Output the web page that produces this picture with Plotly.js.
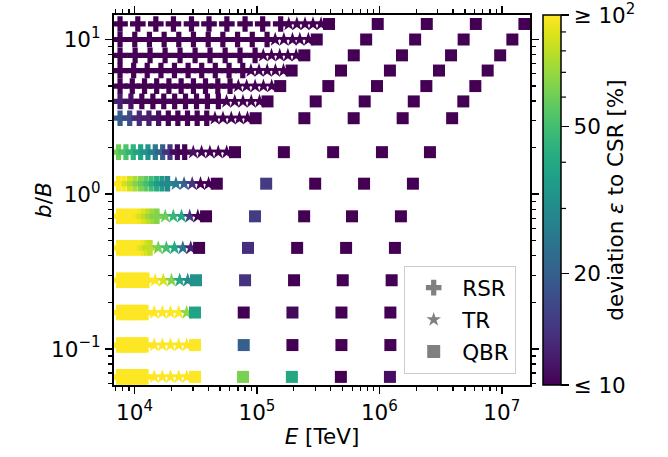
<!DOCTYPE html>
<html><head><meta charset="utf-8">
<script src="https://cdn.plot.ly/plotly-3.0.1.min.js"></script>
<style>html,body{margin:0;padding:0;background:#fff}</style>
</head><body><div id="chart" style="width:668px;height:457px"></div>
<script>
// b/B value of each row (top to bottom)
const bB = [12.6, 10.0, 7.9, 6.3, 5.0, 3.98, 3.1, 1.87, 1.17, 0.72, 0.45, 0.278, 0.172, 0.106, 0.066];

// RSR (plus markers): E [TeV] per row
const rsrE = [
  [7.62e3,1.064e4,1.493e4,2.08e4,2.92e4,4.06e4,5.68e4,8.0e4,1.114e5,1.563e5],
  [7.62e3,1.005e4,1.324e4,1.746e4,2.30e4,3.03e4,4.0e4,5.27e4,6.95e4,9.16e4,1.21e5],
  [7.62e3,1.012e4,1.34e4,1.778e4,2.355e4,3.126e4,4.14e4,5.5e4,7.28e4,9.66e4],
  [7.62e3,9.84e3,1.27e4,1.644e4,2.12e4,2.74e4,3.54e4,4.57e4,5.92e4,7.66e4],
  [7.62e3,9.59e3,1.208e4,1.517e4,1.91e4,2.404e4,3.03e4,3.80e4,4.79e4,6.03e4],
  [7.62e3,9.35e3,1.148e4,1.413e4,1.734e4,2.128e4,2.61e4,3.21e4,3.94e4,4.84e4],
  [7.62e3,9.14e3,1.094e4,1.312e4,1.574e4,1.888e4,2.26e4,2.71e4,3.25e4,3.89e4],
  [7.41e3,8.51e3,9.77e3,1.122e4,1.288e4,1.479e4,1.698e4,1.95e4,2.239e4,2.57e4],
  [7.41e3,8.2e3,9.1e3,1.007e4,1.117e4,1.236e4,1.368e4,1.517e4,1.679e4,1.862e4],
  [7.41e3,8.04e3,8.71e3,9.44e3,1.023e4,1.107e4,1.2e4,1.3e4,1.409e4,1.528e4],
  [7.41e3,7.92e3,8.45e3,9.04e3,9.64e3,1.03e4,1.099e4,1.175e4,1.253e4,1.34e4],
  [7.41e3,7.86e3,8.34e3,8.85e3,9.38e3,9.95e3,1.056e4,1.12e4,1.188e4,1.265e4],
  [7.41e3,7.85e3,8.31e3,8.8e3,9.32e3,9.87e3,1.045e4,1.107e4,1.172e4,1.242e4],
  [7.41e3,7.85e3,8.31e3,8.8e3,9.32e3,9.87e3,1.045e4,1.107e4,1.172e4,1.242e4],
  [7.41e3,7.85e3,8.31e3,8.8e3,9.32e3,9.87e3,1.045e4,1.107e4,1.172e4,1.242e4]
];
// RSR deviation epsilon [%]
const rsrDev = [
  [8,8,8,8,8,8,8,8,8,8],
  [8,8,8,8,8,8,8,8,8,8,8],
  [8,8,8,8,8,8,8,8,8,8],
  [8,8,8,8,8,8,8,8,8,8],
  [8,8,8,8,8,8,8,8,8,8],
  [12,11,9,8,8,8,8,8,8,8],
  [19,17,13,12,11,10,9.5,9,8,8],
  [60,52,45,38,32,26,20,14,10.5,9],
  [110,100,85,75,65,57,50,42,35,29],
  [120,115,110,105,100,95,88,80,72,65],
  [120,120,115,110,105,100,100,95,88,80],
  [120,120,120,120,120,120,120,120,120,120],
  [120,120,120,120,120,120,120,120,120,120],
  [120,120,120,120,120,120,120,120,120,120],
  [120,120,120,120,120,120,120,120,120,120]
];

// TR (star markers): E [TeV] per row
const trE = [
  [1.82e5,2.12e5,2.47e5,2.87e5,3.34e5],
  [1.41e5,1.66e5,1.95e5,2.24e5,2.63e5],
  [1.127e5,1.315e5,1.535e5,1.79e5,2.09e5],
  [8.93e4,1.04e5,1.213e5,1.416e5,1.648e5],
  [7.05e4,8.24e4,9.66e4,1.13e5,1.32e5],
  [5.65e4,6.59e4,7.69e4,8.99e4,1.05e5],
  [4.54e4,5.28e4,6.17e4,7.19e4,8.37e4],
  [3.02e4,3.53e4,4.13e4,4.83e4,5.66e4],
  [2.18e4,2.54e4,2.96e4,3.46e4,4.03e4],
  [1.782e4,2.075e4,2.42e4,2.825e4,3.29e4],
  [1.563e4,1.82e4,2.12e4,2.48e4,2.88e4],
  [1.476e4,1.718e4,2.004e4,2.34e4,2.72e4],
  [1.449e4,1.687e4,1.968e4,2.296e4,2.67e4],
  [1.449e4,1.687e4,1.968e4,2.296e4,2.67e4],
  [1.449e4,1.687e4,1.968e4,2.296e4,2.67e4]
];
const trDev = [
  [8,8,8,8,8],[8,8,8,8,8],[8,8,8,8,8],[8,8,8,8,8],[8,8,8,8,8],[8,8,8,8,8],[8,8,8,8,8],
  [11,9,8,8,8],
  [26,20,14,10,8],
  [59,47,40,15,8],
  [62,50,40,24,12],
  [100,87,65,40,29],
  [110,105,100,100,68],
  [120,120,120,120,120],
  [120,120,120,120,120]
];

// QBR (square markers): E [TeV] per row
const qbrE = [
  [3.88e5,9.7e5,2.44e6,6.14e6,1.53e7],
  [3.08e5,7.8e5,1.96e6,4.88e6,1.22e7],
  [2.44e5,6.18e5,1.53e6,3.85e6,9.7e6],
  [1.92e5,4.86e5,1.22e6,3.07e6,7.67e6],
  [1.55e5,3.83e5,9.57e5,2.42e6,6.08e6],
  [1.22e5,3.02e5,7.59e5,1.91e6,4.85e6],
  [9.77e4,2.44e5,6.17e5,1.55e6,3.93e6],
  [6.62e4,1.66e5,4.19e5,1.05e6,2.59e6],
  [4.70e4,1.19e5,2.99e5,7.5e5,1.88e6],
  [3.84e4,9.64e4,2.43e5,5.98e5,1.50e6],
  [3.37e4,8.45e4,2.13e5,5.35e5,1.34e6],
  [3.18e4,8.0e4,2.01e5,5.02e5,1.26e6],
  [3.12e4,7.8e4,1.95e5,4.9e5,1.23e6],
  [3.12e4,7.8e4,1.95e5,4.9e5,1.23e6],
  [3.12e4,7.7e4,1.93e5,4.85e5,1.22e6]
];
const qbrDev = [
  [8,8,8,8,8],[8,8,8,8,8],[8,8,8,8,8],[8,8,8,8,8],[8,8,8,8,8],[8,8,8,8,8],[8,8,8,8,8],[8,8,8,8,8],
  [8,15,8,8,8],
  [8,15,8,8,8],
  [8,13.5,8,8,8],
  [32,14,10,8,8],
  [38,9,10.5,8,8],
  [120,20,9,8,8],
  [120,63,40,9,10.8]
];

const legendNames = ['RSR','TR','QBR'];
const FS = 21.5;
const FONT = {family: 'DejaVu Sans', size: FS, color: 'black'};

function flat(Es, Devs) {
  const x = [], y = [], c = [];
  Es.forEach((row, i) => row.forEach((e, j) => {
    x.push(e); y.push(bB[i]);
    c.push(Math.min(2, Math.max(1, Math.log10(Devs[i][j]))));
  }));
  return {x, y, c};
}

const cbTickVals = [1, Math.log10(20), Math.log10(50), 2];
const cbTickText = ['\u2264 10', '20', '50', '\u2265 10<sup>2</sup>'];

function trace(d, symbol, size, showscale) {
  const t = {
    type: 'scatter', mode: 'markers', x: d.x, y: d.y, showlegend: false,
    hoverinfo: 'x+y',
    marker: {symbol: symbol, size: size, color: d.c, colorscale: 'Viridis', cmin: 1, cmax: 2,
             line: {width: 0}, showscale: showscale}
  };
  if (showscale) {
    t.marker.colorbar = {
      x: (543 - 114) / 416, xanchor: 'left', xpad: 0, ypad: 0,
      thickness: 18, thicknessmode: 'pixels', len: 370, lenmode: 'pixels',
      y: 0.5, yanchor: 'middle', outlinewidth: 1.5, outlinecolor: 'black',
      tickmode: 'array', tickvals: cbTickVals, ticktext: cbTickText,
      ticks: 'outside', ticklen: 8, tickwidth: 1.5, tickcolor: 'black',
      ticklabeloverflow: 'allow',
      tickfont: FONT,
      title: {text: 'deviation <i>\u03b5</i> to CSR [%]', side: 'right', font: FONT}
    };
  }
  return t;
}

const rsr = flat(rsrE, rsrDev), tr = flat(trE, trDev), qbr = flat(qbrE, qbrDev);
const data = [
  trace(rsr, 'cross', 13, false),
  trace(tr, 'star', 11, false),
  trace(qbr, 'square', 12, true)
];
// legend entries (gray icons)
[['cross', 13], ['star', 11], ['square', 13]].forEach((s, k) => {
  data.push({type: 'scatter', mode: 'markers', x: [null], y: [null], name: legendNames[k],
    legendgroup: 'g' + k, showlegend: true,
    marker: {symbol: s[0], size: s[1], color: '#808080', line: {width: 0}}});
});

// minor ticks
const xMinor = [], yMinor = [];
[3, 4, 5, 6, 7].forEach(p => { for (let m = 2; m <= 9; m++) xMinor.push(m * Math.pow(10, p)); });
[-2, -1, 0, 1].forEach(p => { for (let m = 2; m <= 9; m++) yMinor.push(m * Math.pow(10, p)); });

// colorbar minor ticks as shapes
const shapes = [];
[30, 40, 60, 70, 80, 90].forEach(v => {
  const yy = Math.log10(v) - 1;
  shapes.push({type: 'line', xref: 'paper', yref: 'paper',
    x0: (561 - 114) / 416, x1: (566 - 114) / 416, y0: yy, y1: yy,
    line: {color: 'black', width: 1.2}});
});

const axisCommon = {
  type: 'log', showline: true, linecolor: 'black', linewidth: 1.6, mirror: 'allticks',
  ticks: 'outside', ticklen: 7.5, tickwidth: 1.6, tickcolor: 'black', showgrid: false, zeroline: false,
  tickfont: FONT,
  minor: {ticks: 'outside', ticklen: 4.3, tickwidth: 1.2, tickcolor: 'black', showgrid: false}
};

const layout = {
  width: 668, height: 457,
  margin: {l: 114, r: 138, t: 15, b: 72},
  paper_bgcolor: 'white', plot_bgcolor: 'white',
  font: FONT,
  xaxis: Object.assign({}, axisCommon, {
    range: [Math.log10(6800), Math.log10(1.70e7)],
    tickmode: 'array', tickvals: [1e4, 1e5, 1e6, 1e7],
    ticktext: ['10<sup>4</sup>', '10<sup>5</sup>', '10<sup>6</sup>', '10<sup>7</sup>'],
    minor: Object.assign({}, axisCommon.minor, {tickmode: 'array', tickvals: xMinor}),
    title: {text: '<i>E</i> [TeV]', standoff: 5, font: FONT}
  }),
  yaxis: Object.assign({}, axisCommon, {
    range: [Math.log10(0.0585), Math.log10(14.4)],
    tickmode: 'array', tickvals: [0.1, 1, 10],
    ticktext: ['10<sup>\u22121</sup>', '10<sup>0</sup>', '10<sup>1</sup>'],
    minor: Object.assign({}, axisCommon.minor, {tickmode: 'array', tickvals: yMinor})
  }),
  annotations: [{text: '<i>b</i>/<i>B</i>', xref: 'paper', yref: 'paper',
    x: (43 - 114) / 416, y: 0.5, xanchor: 'center', yanchor: 'middle',
    textangle: -90, showarrow: false, font: FONT}],
  legend: {x: (404 - 114) / 416, y: (385 - 266) / 370, xanchor: 'left', yanchor: 'top',
    bgcolor: 'rgba(255,255,255,0.85)', bordercolor: '#cccccc', borderwidth: 1.2,
    font: FONT, tracegroupgap: 1, itemwidth: 47},
  shapes: shapes
};

Plotly.newPlot('chart', data, layout, {displayModeBar: false, staticPlot: true});
</script></body></html>
